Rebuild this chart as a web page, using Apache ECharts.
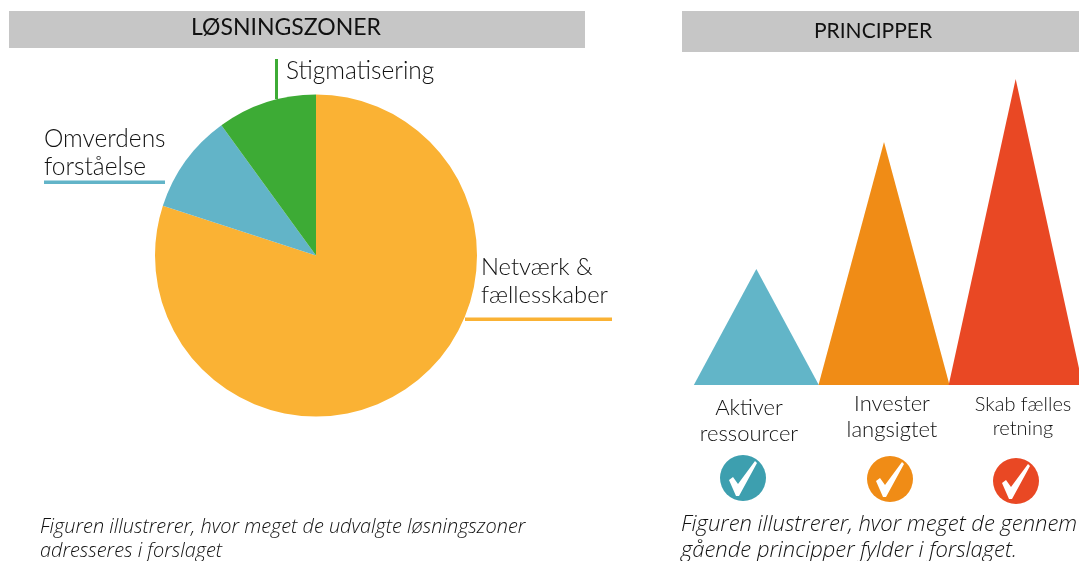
<!DOCTYPE html>
<html>
<head>
<meta charset="utf-8">
<style>
  html, body { margin: 0; padding: 0; background: #fff; }
  #chart { width: 1079px; height: 561px; }
</style>
<script src="https://cdn.jsdelivr.net/npm/echarts@6/dist/echarts.min.js"></script>
</head>
<body>
<div id="chart"></div>
<script>
const zoneNames = ['Netværk &\nfællesskaber', 'Omverdens\nforståelse', 'Stigmatisering'];
const zoneValues = [80, 10, 10];
const principleNames = ['Aktiver\nressourcer', 'Invester\nlangsigtet', 'Skab fælles\nretning'];
const principleValues = [116, 243, 306];

const zoneColors = ['#fab234', '#62b4c8', '#3dab35'];
const triangleColors = ['#62b5c8', '#f08c16', '#e94824'];
const iconColors = ['#3d9faf', '#f08c16', '#e94824'];
const fontFamily = 'Lato, "Noto Sans", sans-serif';
const noteFont = '"Open Sans", Lato, sans-serif';

const chart = echarts.init(document.getElementById('chart'));

const text = (x, y, str, size, extra) => ({
  type: 'text',
  x: x,
  y: y,
  style: Object.assign({
    text: str,
    fontFamily: fontFamily,
    fontWeight: 300,
    fontSize: size,
    fill: '#111',
    textVerticalAlign: 'middle'
  }, extra)
});
const rect = (x, y, width, height, fill) => ({
  type: 'rect',
  shape: { x: x, y: y, width: width, height: height },
  style: { fill: fill }
});

const checkIcon = (cx, cy, color) => [
  { type: 'circle', shape: { cx: cx, cy: cy, r: 23 }, style: { fill: color } },
  {
    type: 'polygon',
    shape: { points: [[cx - 14, cy + 2], [cx - 10, cy - 1], [cx - 5, cy + 6], [cx + 12, cy - 17], [cx + 14, cy - 15], [cx - 4, cy + 18], [cx - 7, cy + 18]] },
    style: { fill: '#fff' }
  }
];

chart.setOption({
  animation: false,
  grid: { left: 693, width: 388.5, top: 65, height: 320 },
  xAxis: { type: 'category', data: principleNames, show: false },
  yAxis: { type: 'value', min: 0, max: 320, show: false },
  series: [
    {
      type: 'pie',
      center: [316, 255.5],
      radius: [0, 161],
      startAngle: 90,
      silent: true,
      label: { show: false },
      labelLine: { show: false },
      data: zoneValues.map((v, i) => ({ name: zoneNames[i], value: v, itemStyle: { color: zoneColors[i] } }))
    },
    {
      type: 'pictorialBar',
      silent: true,
      symbol: 'path://M0 100L50 0L100 100Z',
      symbolPosition: 'start',
      data: principleValues.map((v, i) => ({
        value: v,
        symbolSize: [[125, 131, 134][i], '100%'],
        symbolOffset: [[-1, -2, 1][i], 0],
        itemStyle: { color: triangleColors[i] }
      }))
    }
  ],
  graphic: [
    rect(9, 11, 576, 37, '#c6c6c6'),
    rect(682, 11, 397, 41, '#c6c6c6'),
    text(286, 28, 'LØSNINGSZONER', 23, { textAlign: 'center', fontWeight: 400 }),
    text(873, 31, 'PRINCIPPER', 21, { textAlign: 'center', fontWeight: 400 }),

    rect(275, 59, 3, 40, zoneColors[2]),
    rect(44, 180.5, 121, 3.5, zoneColors[1]),
    rect(465, 317.5, 147, 3.5, zoneColors[0]),
    text(286, 71, zoneNames[2], 24.5),
    text(44, 153, zoneNames[1], 24.5, { lineHeight: 28 }),
    text(481, 281, zoneNames[0], 23.8, { lineHeight: 28 }),

    text(749, 421, principleNames[0], 22, { textAlign: 'center', lineHeight: 26 }),
    text(892, 417, principleNames[1], 22, { textAlign: 'center', lineHeight: 26 }),
    text(1023, 417, principleNames[2], 20, { textAlign: 'center', lineHeight: 24 }),

    ...checkIcon(743, 478, iconColors[0]),
    ...checkIcon(890, 479, iconColors[1]),
    ...checkIcon(1016, 481, iconColors[2]),

    text(40, 539, 'Figuren illustrerer, hvor meget de udvalgte løsningszoner\nadresseres i forslaget', 19.9, { fontFamily: noteFont, fontStyle: 'italic', lineHeight: 24 }),
    text(681, 538, 'Figuren illustrerer, hvor meget de gennem\ngående principper fylder i forslaget.', 22, { fontFamily: noteFont, fontStyle: 'italic', lineHeight: 26 })
  ]
});
</script>
</body>
</html>
